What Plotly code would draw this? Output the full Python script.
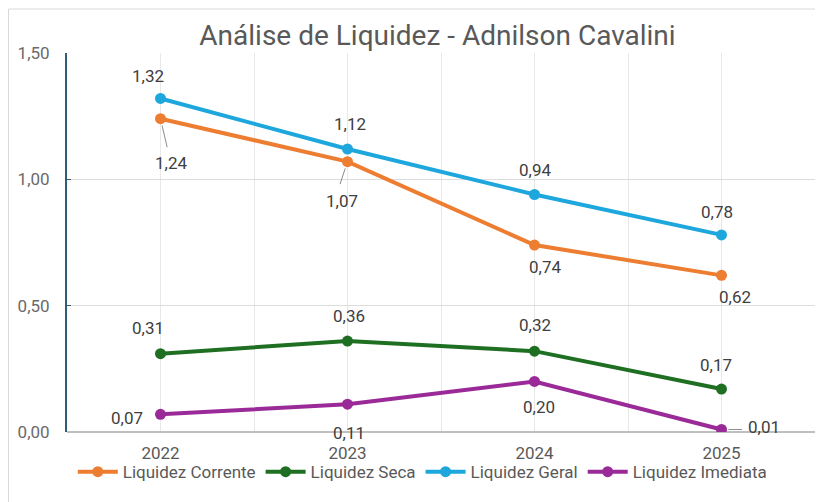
import plotly.graph_objects as go

anos = ["2022", "2023", "2024", "2025"]
corrente = [1.24, 1.07, 0.74, 0.62]
seca = [0.31, 0.36, 0.32, 0.17]
geral = [1.32, 1.12, 0.94, 0.78]
imediata = [0.07, 0.11, 0.20, 0.01]
y_ticks = [0, 0.5, 1.0, 1.5]
y_ticktext = ["0,00", "0,50", "1,00", "1,50"]

series = [
    ("Liquidez Corrente", corrente, "#ED7D31"),
    ("Liquidez Seca", seca, "#1F6F22"),
    ("Liquidez Geral", geral, "#1EA7DD"),
    ("Liquidez Imediata", imediata, "#9A2A98"),
]

xi = list(range(len(anos)))

fig = go.Figure()
for name, vals, col in series:
    fig.add_trace(go.Scatter(
        x=xi, y=vals, name=name, mode="lines+markers",
        line=dict(color=col, width=4),
        marker=dict(color=col, size=11),
    ))

def fmt(v):
    return f"{v:.2f}".replace(".", ",")

# label offsets (pixels) per series and point: (xshift, yshift, leader)
offsets = {
    "Liquidez Geral": [(-13, 22, None), (2, 25, None), (0, 24, None), (-5, 23, None)],
    "Liquidez Corrente": [(10, -44, (7, 30)), (-6, -39, (-8, 24)), (10, -22, None), (13, -22, None)],
    "Liquidez Seca": [(-13, 26, None), (1, 25, None), (0, 26, None), (-6, 24, None)],
    "Liquidez Imediata": [(-34, -4, None), (1, -29, None), (4, -26, None), (42, 2, (22, 0))],
}

annotations = []
for name, vals, col in series:
    for i, v in enumerate(vals):
        xs, ys, arr = offsets[name][i]
        annotations.append(dict(
            x=xi[i], y=v, xref="x", yref="y", text=fmt(v), showarrow=False,
            xshift=xs, yshift=ys,
            font=dict(size=17, color="#404040"),
        ))
        if arr is not None:
            annotations.append(dict(
                x=xi[i], y=v, xref="x", yref="y", text="", showarrow=True, arrowhead=0,
                arrowwidth=1, arrowcolor="#8c8c8c",
                ax=arr[0], ay=arr[1], standoff=7,
            ))

shapes = [dict(type="rect", xref="paper", yref="paper",
               x0=-0.0782, x1=1.03, y0=-0.25, y1=1.116,
               line=dict(color="#d9d9d9", width=1), layer="below")]

# x grid at category centres and boundaries
half_steps = [k / 2 - 0.5 for k in range(2 * len(anos) + 1)]
half_text = [anos[int(h)] if float(h).is_integer() else "" for h in half_steps]

fig.update_layout(
    width=815, height=494,
    margin=dict(l=59, r=8, t=45, b=70, autoexpand=False),
    paper_bgcolor="white", plot_bgcolor="white",
    font=dict(family="Roboto", color="#595959"),
    title=dict(text="Análise de Liquidez - Adnilson Cavalini",
               x=0.527, xanchor="center", y=0.945, yanchor="middle",
               font=dict(size=28, color="#595959")),
    showlegend=True,
    legend=dict(orientation="h", x=0.475, xanchor="center", y=-0.106, yanchor="middle",
                font=dict(size=17, color="#595959"), itemwidth=40,
                bgcolor="rgba(0,0,0,0)"),
    annotations=annotations,
    shapes=shapes,
)
fig.update_xaxes(range=[-0.5, 3.5], tickvals=half_steps, ticktext=half_text,
                 showgrid=True, gridcolor="#e8e8e8", showline=False, ticks="",
                 tickfont=dict(size=17, color="#595959"), zeroline=False,
                 ticklabelstandoff=9, automargin=False)
fig.update_yaxes(range=[0, 1.5], tickvals=y_ticks, ticktext=y_ticktext,
                 showgrid=True, gridcolor="#dcdcdc", gridwidth=1,
                 showline=True, linecolor="#2f5d73", linewidth=2,
                 ticks="inside", ticklen=4, tickcolor="#2f5d73",
                 tickfont=dict(size=17, color="#6a6a6a"), zeroline=True,
                 zerolinecolor="#bfbfbf", ticklabelstandoff=12, automargin=False)

fig.write_html("out.html")
